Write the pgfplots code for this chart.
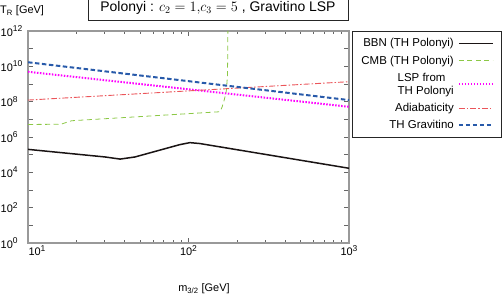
\documentclass[border=0pt]{standalone}
\usepackage{fontspec}
\setmainfont{Liberation Sans}
\usepackage{pgfplots}
\pgfplotsset{compat=1.18}
\definecolor{bbn}{RGB}{26,20,20}
\definecolor{cmb}{RGB}{140,200,70}
\definecolor{lsp}{RGB}{255,0,255}
\definecolor{adia}{RGB}{235,85,90}
\definecolor{grav}{RGB}{40,90,170}
\newcommand\sups[1]{\raisebox{0.42em}{\fontsize{8.5}{9}\selectfont #1}}
\begin{document}
\begin{tikzpicture}
\path[use as bounding box] (-28bp,-65bp) rectangle (476bp,243bp);
\begin{axis}[at={(0,0)}, anchor=south west, scale only axis,
  width=321bp, height=212bp,
  xmode=log, ymode=log, xmin=10, xmax=1000, ymin=1, ymax=1e12,
  xtick={10,100,1000},
  xticklabels={\hspace*{18bp}10\sups{1}, 10\sups{2}, 10\sups{3}},
  ytick={1e0,1e1,1e2,1e3,1e4,1e5,1e6,1e7,1e8,1e9,1e10,1e11,1e12},
  yticklabels={10\sups{0},,10\sups{2},,10\sups{4},,10\sups{6},,10\sups{8},,10\sups{10},,10\sups{12}},
  yminorticks=false,
  tick pos=both, tick align=inside,
  major tick length=5bp, minor tick length=3bp,
  every tick/.style={black!60, line width=0.6bp},
  axis line style={gray!80, line width=1.2bp},
  ticklabel style={font=\fontsize{11}{13}\selectfont},
  xticklabel style={anchor=north, inner sep=0pt, yshift=-2bp},
  yticklabel style={anchor=west, inner sep=0pt, xshift=-27.5bp},
  xlabel={m\textsubscript{3/2} [GeV]},
  xlabel style={at={(axis description cs:0,0)}, anchor=center, xshift=176bp, yshift=-46bp, font=\fontsize{11}{13}\selectfont},
  ylabel={T\textsubscript{R} [GeV]},
  ylabel style={at={(axis description cs:0,1)}, rotate=-90, anchor=west, inner sep=0pt, xshift=-28bp, yshift=20bp, font=\fontsize{11}{13}\selectfont},
  title={Polonyi : $c_2=1{,}c_3=5$ , Gravitino LSP},
  title style={at={(axis description cs:0,1)}, anchor=center, xshift=190bp, yshift=17.5bp, draw=black!85, line width=0.9bp, minimum width=260bp, minimum height=26bp, inner sep=0pt, font=\fontsize{14}{16}\selectfont},
  legend style={at={(axis description cs:1,1)}, anchor=north west, xshift=3bp, draw=black!85, line width=0.9bp,
    font=\fontsize{11.5}{13}\selectfont, inner xsep=8bp, inner ysep=6bp, row sep=5.5bp, column sep=3bp,
    nodes={inner sep=1bp, align=left}},
  legend cell align=right, legend plot pos=right,
  legend image code/.code={\draw[#1] (0bp,0bp) -- (34bp,0bp);},
]
\addplot[bbn, line width=1.5bp] coordinates {(10,1.995e5) (30.2,7.41e4) (37.5,5.62e4) (46.4,7.41e4) (88.5,3.72e5) (102,4.79e5) (117.5,4.27e5) (1000,1.70e4)};
\addlegendentry{BBN (TH Polonyi)}
\addplot[cmb, line width=0.8bp, dash pattern=on 5bp off 3.5bp] coordinates {(10,5.13e6) (16,5.25e6) (18.7,8.32e6) (157,2.69e7) (162,5.01e7) (167,1.26e8) (172,3.98e8) (175,3.16e9) (176,1e12)};
\addlegendentry{CMB (TH Polonyi)}
\addplot[lsp, line width=2bp, dash pattern=on 1.5bp off 1.5bp] coordinates {(10,4.90e9) (1000,5.13e7)};
\addlegendentry{LSP from\\TH Polonyi}
\addplot[adia, line width=0.9bp, dash pattern=on 6bp off 2bp on 1.5bp off 2bp] coordinates {(10,1.23e8) (1000,1.35e9)};
\addlegendentry{Adiabaticity}
\addplot[grav, line width=2bp, dash pattern=on 4.5bp off 2.5bp] coordinates {(10,1.70e10) (1000,1.23e8)};
\addlegendentry{TH Gravitino}
\end{axis}
\end{tikzpicture}
\end{document}
